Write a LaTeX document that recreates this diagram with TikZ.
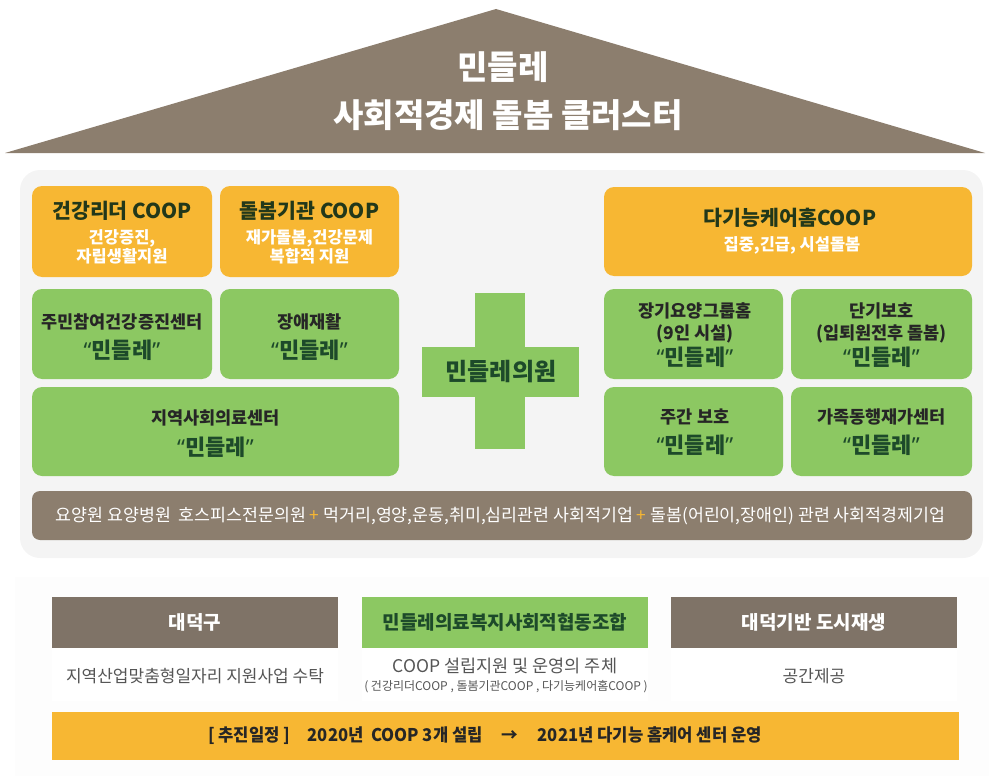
\documentclass[tikz,border=0pt]{standalone}
\usepackage{fontspec}
\setmainfont{Noto Sans CJK KR}
\newfontfamily\narrowfont{Noto Sans CJK KR}[FakeStretch=0.95]
\newfontfamily\quotefont{Noto Sans}
\newcommand\fsz[1]{\fontsize{#1}{#1}\selectfont}
\newcommand\mindle{{\quotefont “}민들레{\quotefont ”}}
\definecolor{roofbrown}{HTML}{8C7E6E}
\definecolor{headbrown}{HTML}{7F7367}
\definecolor{cooporange}{HTML}{F7B733}
\definecolor{caregreen}{HTML}{8CC862}
\definecolor{namegreen}{HTML}{1D4A2A}
\definecolor{olivetext}{HTML}{22381A}
\definecolor{panelgray}{HTML}{F4F4F4}
\definecolor{bodygray}{HTML}{555555}
\tikzset{
  coopbox/.style={fill=cooporange, rounded corners=10pt},
  carebox/.style={fill=caregreen, rounded corners=10pt},
  lbl/.style={inner sep=0pt, anchor=center},
  coophead/.style={lbl, font=\bfseries\fsz{20.5}, text=olivetext},
  coopsub/.style={lbl, font=\bfseries\fsz{16.5}, text=white},
  carehead/.style={lbl, font=\bfseries\fsz{17.5}, text=black!85},
  carename/.style={lbl, font=\bfseries\fsz{22}, text=namegreen},
  partnerhead/.style={lbl, font=\bfseries\fsz{19}},
  partnerbody/.style={lbl, font=\fsz{17}, text=bodygray}
}
\begin{document}
\begin{tikzpicture}[x=1pt,y=-1pt]
\useasboundingbox (0,0) rectangle (989,776);
% roof
\fill[roofbrown] (5,153) -- (496,9) -- (985,153) -- cycle;
\node[lbl, font=\bfseries\fsz{33}, text=white] (rooftop) at (503,67) {민들레};
\node[lbl, font=\bfseries\fsz{33}, text=white] (roofname) at (508,115) {사회적경제 돌봄 클러스터};
% cluster panel
\fill[panelgray, rounded corners=20pt] (20,170) rectangle (983,558);
\fill[coopbox] (32,186) rectangle (212,277);
\node[coophead] (leader) at (122,211) {건강리더 COOP};
\node[coopsub] (leadera) at (122,238) {건강증진,};
\node[coopsub] (leaderb) at (122,256) {자립생활지원};
\fill[coopbox] (220,186) rectangle (399,277);
\node[coophead] (carecoop) at (309.5,211) {돌봄기관 COOP};
\node[coopsub] (carecoopa) at (309.5,238) {재가돌봄,건강문제};
\node[coopsub] (carecoopb) at (309.5,256) {복합적 지원};
\fill[carebox] (32,289) rectangle (212,379);
\node[carehead] (health) at (122,322) {주민참여건강증진센터};
\node[carename] (healthname) at (122,350) {\mindle};
\fill[carebox] (220,289) rectangle (399,379);
\node[carehead] (rehab) at (309.5,322) {장애재활};
\node[carename] (rehabname) at (309.5,350) {\mindle};
\fill[carebox] (32,387) rectangle (399,476);
\node[carehead] (medical) at (215.5,418) {지역사회의료센터};
\node[carename] (medicalname) at (215.5,447) {\mindle};
% cross
\fill[caregreen] (475,293) rectangle (525,449);
\fill[caregreen] (422,347) rectangle (579,397);
\node[lbl, font=\bfseries\fsz{24}, text=namegreen] (clinic) at (501,372) {민들레의원};
% right side
\fill[coopbox] (604,187) rectangle (972,276);
\node[coophead] (homecoop) at (790,218) {다기능케어홈COOP};
\node[coopsub] (homecoopa) at (792,245) {집중,긴급, 시설돌봄};
\fill[carebox] (604,289) rectangle (783,379);
\node[carehead] (group) at (695,311) {장기요양그룹홈};
\node[carehead] (groupa) at (695,334) {(9인 시설)};
\node[carename] (groupname) at (695,357) {\mindle};
\fill[carebox] (791,289) rectangle (972,379);
\node[carehead] (short) at (881.5,311) {단기보호};
\node[carehead] (shorta) at (881.5,334) {(입퇴원전후 돌봄)};
\node[carename] (shortname) at (881.5,357) {\mindle};
\fill[carebox] (604,387) rectangle (783,476);
\node[carehead] (day) at (695,417) {주간 보호};
\node[carename] (dayname) at (695,445) {\mindle};
\fill[carebox] (791,387) rectangle (972,476);
\node[carehead] (family) at (881.5,417) {가족동행재가센터};
\node[carename] (familyname) at (881.5,445) {\mindle};
% partner strip
\fill[roofbrown, rounded corners=8pt] (32,491) rectangle (972,540);
\node[lbl, font=\fsz{17.3}, text=white] (partners) at (500.5,516)
  {요양원 요양병원\ \ 호스피스전문의원 {\color{cooporange}+} 먹거리,영양,운동,취미,심리관련 사회적기업 {\color{cooporange}+} 돌봄(어린이,장애인) 관련 사회적경제기업};
% support panel
\fill[panelgray!90!gray!10] (15,577) rectangle (989,776);
\fill[headbrown] (52,597) rectangle (338,648);
\fill[white] (52,648) rectangle (338,701);
\node[partnerhead, text=white] (daedeok) at (195,622) {대덕구};
\node[partnerbody] (daedeokbody) at (195,676) {지역산업맞춤형일자리 지원사업 수탁};
\fill[caregreen] (362,597) rectangle (648,648);
\fill[white] (362,648) rectangle (648,701);
\node[partnerhead, text=namegreen] (coop) at (505,622) {민들레의료복지사회적협동조합};
\node[partnerbody, font=\fsz{17.5}] (coopbody) at (505,666) {COOP 설립지원 및 운영의 주체};
\node[lbl, font=\fsz{12}, text=bodygray] (coopsmall) at (506,687) {( 건강리더COOP , 돌봄기관COOP , 다기능케어홈COOP )};
\fill[headbrown] (671,597) rectangle (957,648);
\fill[white] (671,648) rectangle (957,701);
\node[partnerhead, text=white] (regen) at (814,622) {대덕기반 도시재생};
\node[partnerbody] (regenbody) at (814,676) {공간제공};
% schedule
\fill[cooporange] (52,712) rectangle (959,760);
\node[lbl, font=\narrowfont\bfseries\fsz{17.5}, text=black!85] (schedule) at (485,736)
  {[ 추진일정 ]\hspace{1em}2020년\ \ COOP 3개 설립\hspace{1.1em}→\hspace{1.1em}2021년 다기능 홈케어 센터 운영};
\end{tikzpicture}
\end{document}
